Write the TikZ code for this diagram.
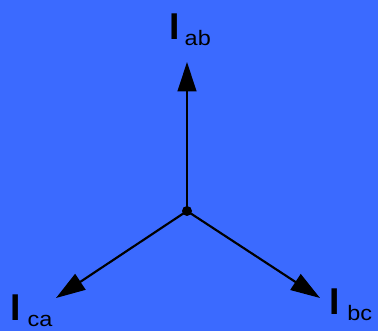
\documentclass[tikz,border=0pt]{standalone}
\usepackage{fontspec}
\setmainfont{Liberation Sans}
\usetikzlibrary{arrows.meta}
\definecolor{bgblue}{RGB}{59,106,255}
\tikzset{
    phasor/.style={line width=1.6pt, -{Triangle[length=22pt, width=14pt]}},
    curlabel/.style={anchor=base west, inner sep=0pt, outer sep=0pt},
    hub/.style={circle, fill=black, inner sep=0pt, minimum size=7.5pt}
}
\newcommand{\curr}[2][3.5pt]{{\fontsize{28}{28}\selectfont\bfseries I}\hspace{#1}{\fontsize{15.7}{16}\selectfont\raisebox{-5pt}{\scalebox{1.12}[1]{#2}}}}

\begin{document}
\begin{tikzpicture}[x=0.75pt, y=-0.75pt]
\fill[bgblue] (0,0) rectangle (378,331);
\useasboundingbox (0,0) rectangle (378,331);
\node[hub] (o) at (187,211) {};
\coordinate (tab) at (187,62);
\coordinate (tca) at (56,298);
\coordinate (tbc) at (320,298);
\draw[phasor] (o.center) -- (tab);
\draw[phasor] (o.center) -- (tca);
\draw[phasor] (o.center) -- (tbc);
\node[curlabel] (lab) at (169.7,39.3) {\curr{ab}};
\node[curlabel] (lca) at (10.7,320) {\curr[5pt]{ca}};
\node[curlabel] (lbc) at (329,314) {\curr[6pt]{bc}};
\end{tikzpicture}
\end{document}
